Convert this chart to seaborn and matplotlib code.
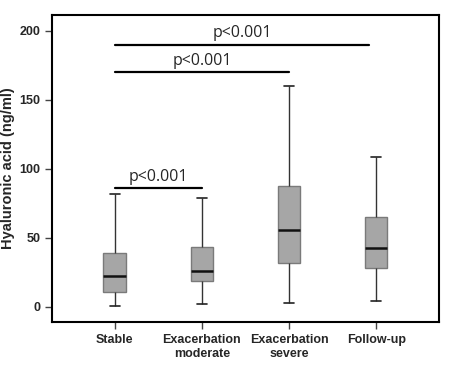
import matplotlib
matplotlib.use("Agg")
import matplotlib.pyplot as plt
import pandas as pd
import seaborn as sns

# five-number summaries: min, q1, median, q3, max
groups = ["Stable", "Exacerbation\nmoderate", "Exacerbation\nsevere", "Follow-up"]
stable = [0.5, 10.6, 22.4, 38.8, 82.0]
moderate = [1.9, 19.0, 26.3, 43.2, 78.6]
severe = [2.7, 31.8, 55.5, 87.3, 160.4]
follow_up = [4.3, 28.5, 42.7, 64.9, 108.3]

# significance brackets: (from group, to group, bar height, label)
sig_from = [0, 0, 0]
sig_to = [1, 2, 2.92]
sig_y = [86, 170, 190]
sig_label = ["p<0.001", "p<0.001", "p<0.001"]

df = pd.DataFrame({
    "group": [g for g in groups for _ in range(5)],
    "value": stable + moderate + severe + follow_up,
})

sns.set_style("white")
plt.rcParams["font.family"] = ["Liberation Sans", "DejaVu Sans"]

fig, ax = plt.subplots(figsize=(4.61, 3.68), dpi=100)
fig.subplots_adjust(left=0.113, right=0.952, bottom=0.125, top=0.959)

sns.boxplot(
    data=df, x="group", y="value", order=groups, ax=ax,
    whis=(0, 100), width=0.26, color="#a6a6a6", linecolor="#7a7a7a",
    linewidth=1.0, showfliers=False, saturation=1,
    medianprops={"color": "#111111", "linewidth": 1.8},
    capprops={"color": "#222222", "linewidth": 1.2},
    whiskerprops={"color": "#333333", "linewidth": 1.0},
)
for line in ax.lines:
    # shorten the caps
    xd = line.get_xdata()
    if len(xd) == 2 and xd[0] != xd[1]:
        ys = line.get_ydata()
        if ys[0] == ys[1] and abs(xd[1] - xd[0]) < 0.2:
            c = (xd[0] + xd[1]) / 2
            line.set_xdata([c - 0.055, c + 0.055])

for x0, x1, y, lab in zip(sig_from, sig_to, sig_y, sig_label):
    ax.plot([x0, x1], [y, y], color="black", lw=1.6)
    ax.text((x0 + x1) / 2, y + 2.5, lab, ha="center", va="bottom",
            fontsize=11.5, family=["Open Sans", "DejaVu Sans"])

ax.set_xlim(-0.72, 3.72)
ax.set_ylim(-11, 211.5)
ax.set_yticks([0, 50, 100, 150, 200])
ax.set_xlabel("")
ax.set_ylabel("Hyaluronic acid (ng/ml)", fontsize=10.5, fontweight="bold", labelpad=3)
ax.tick_params(axis="both", direction="out", length=5, width=1, color="#444444",
               labelsize=9, left=True, bottom=True)
for lab in ax.get_xticklabels() + ax.get_yticklabels():
    lab.set_fontweight("bold")
for s in ax.spines.values():
    s.set_visible(True)
    s.set_color("black")
    s.set_linewidth(1.5)

fig.savefig("out.png", dpi=100)
